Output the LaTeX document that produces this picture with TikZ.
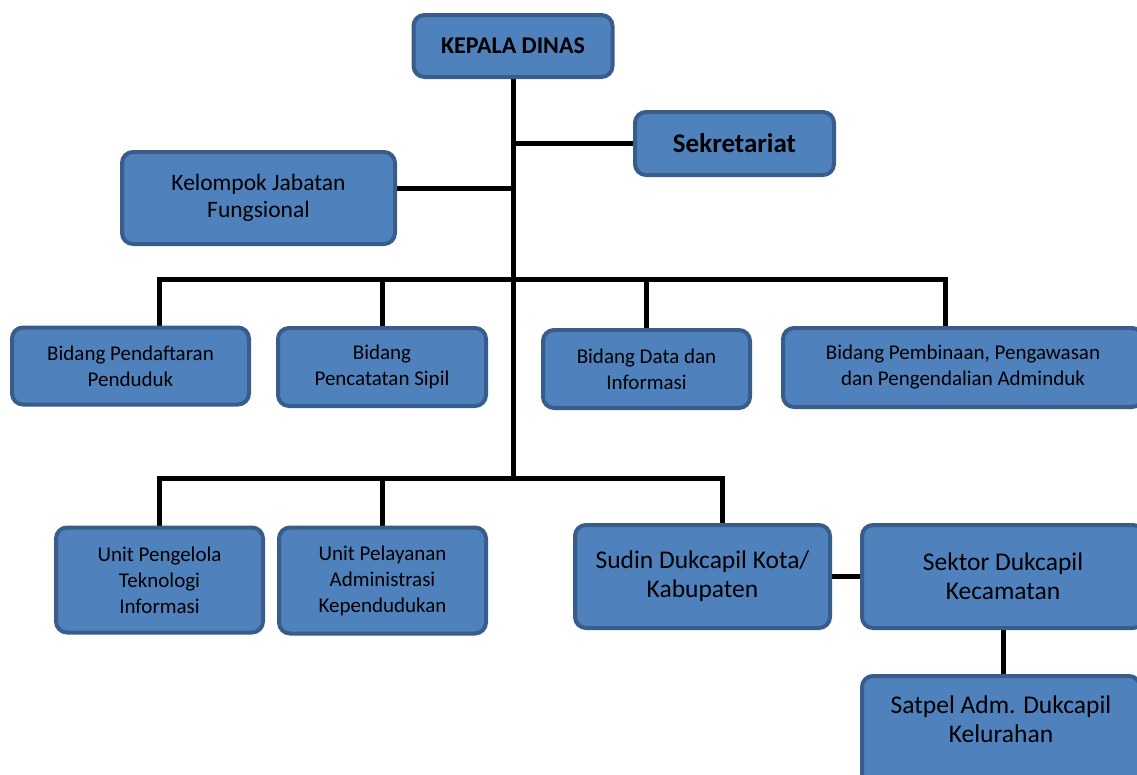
\documentclass[tikz,border=0pt]{standalone}
\usepackage{fontspec}
\setmainfont{Carlito}
\usetikzlibrary{positioning,calc,backgrounds}

\definecolor{unitfill}{HTML}{4F81BD}
\definecolor{unitline}{HTML}{385D8A}

\tikzset{
  unit/.style={rectangle, rounded corners=11pt, draw=unitline, fill=unitfill,
    line width=4pt, align=center, inner sep=0pt},
  small/.style={font=\fontsize{21}{26}\selectfont},
  large/.style={font=\fontsize{25.5}{29}\selectfont},
  link/.style={line width=5pt, line cap=rect},
}

\begin{document}
\begin{tikzpicture}[x=1pt, y=-1pt]

  \clip (0,0) rectangle (1137,774);

  % Head and staff
  \node[unit, minimum width=199pt, minimum height=62pt, font=\bfseries\fontsize{24}{27}\selectfont]
    (kepala) at (513,46) {KEPALA DINAS};
  \node[unit, minimum width=199pt, minimum height=63pt, font=\bfseries\fontsize{27}{30}\selectfont]
    (sekre) at (734.5,143.5) {Sekretariat};
  \node[unit, minimum width=273pt, minimum height=92pt, font=\fontsize{23.5}{27}\selectfont]
    (kelompok) at (258.5,198) {Kelompok Jabatan\\Fungsional};

  % Bidang
  \node[unit, small, minimum width=237pt, minimum height=77pt] (pendaftaran) at (130.5,366)
    {Bidang Pendaftaran\\Penduduk};
  \node[unit, small, minimum width=208pt, minimum height=78pt] (pencatatan) at (382,367)
    {Bidang\\Pencatatan Sipil};
  \node[unit, small, minimum width=207pt, minimum height=78pt] (data) at (646.5,369)
    {Bidang Data dan\\Informasi};
  \node[unit, small, minimum width=360pt, minimum height=79pt] (pembinaan) at (963,367.5)
    {Bidang Pembinaan, Pengawasan\\dan Pengendalian Adminduk};

  % Unit and Sudin
  \node[unit, small, minimum width=207pt, minimum height=105pt] (pengelola) at (159.5,580)
    {Unit Pengelola\\Teknologi\\Informasi};
  \node[unit, small, minimum width=207pt, minimum height=106pt] (pelayanan) at (382.5,580.5)
    {Unit Pelayanan\\Administrasi\\Kependudukan};
  \node[unit, large, minimum width=255pt, minimum height=103pt] (sudin) at (702.5,576.5)
    {Sudin Dukcapil Kota/\\Kabupaten};
  \node[unit, large, minimum width=282pt, minimum height=103pt, right=28pt of sudin] (sektor)
    {Sektor Dukcapil\\Kecamatan};
  \node[unit, large, minimum width=278pt, minimum height=112pt, text depth=26pt,
    below=44pt of sektor, xshift=-2pt] (satpel) {Satpel Adm. Dukcapil\\Kelurahan};

  % Connectors
  \coordinate (bus1) at (513,279);
  \coordinate (bus2) at (513,478);

  \begin{scope}[on background layer]
    \draw[link] (kepala.south) -- (bus2);
    \draw[link] (sekre.west) -- (sekre.west -| kepala.south);
    \draw[link] ([yshift=10pt]kelompok.east) -- ([yshift=10pt]kelompok.east -| kepala.south);

    \draw[link] ([xshift=29pt]pendaftaran.north) |- (bus1) -| ([xshift=-18pt]pembinaan.north);
    \draw[link] (pencatatan.north) -- (pencatatan.north |- bus1);
    \draw[link] (data.north) -- (data.north |- bus1);

    \draw[link] (pengelola.north) |- (bus2) -| ([xshift=20pt]sudin.north);
    \draw[link] (pelayanan.north) -- (pelayanan.north |- bus2);

    \draw[link] (sudin.east) -- (sektor.west);
    \draw[link] (sektor.south) -- (sektor.south |- satpel.north);
  \end{scope}

\end{tikzpicture}
\end{document}
